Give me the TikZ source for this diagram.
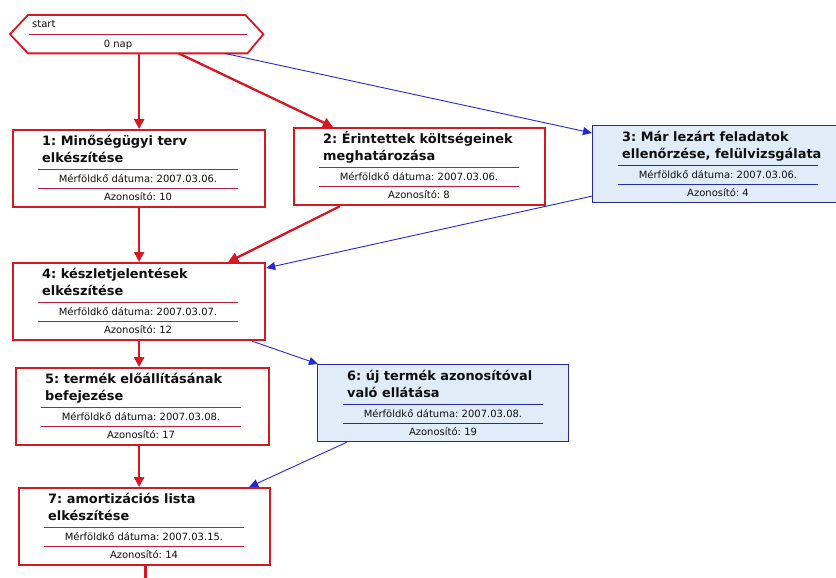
\documentclass[tikz,border=0pt]{standalone}
\usepackage{fontspec}
\setmainfont{DejaVu Sans}
\frenchspacing
\usetikzlibrary{arrows.meta,calc}
\definecolor{rbord}{RGB}{214,24,36}
\definecolor{rdiv}{RGB}{190,30,60}
\definecolor{bbord}{RGB}{40,40,150}
\definecolor{bdiv}{RGB}{40,40,170}
\definecolor{barr}{RGB}{40,40,205}
\definecolor{bfill}{RGB}{224,237,248}
\definecolor{txt}{RGB}{15,15,15}
\tikzset{
 redbox/.style={draw=rbord, line width=2.2pt, fill=white, inner sep=0pt},
 bluebox/.style={draw=bbord, line width=1.1pt, fill=bfill, inner sep=0pt},
 ttl/.style={font=\fontsize{12.9}{15}\selectfont\bfseries, inner sep=0pt, anchor=base west, text=txt},
 det/.style={font=\fontsize{10}{12}\selectfont, inner sep=0pt, anchor=base, text=txt},
 redarr/.style={draw=rbord, line width=2.3pt, -{Triangle[length=10pt,width=10pt]}},
 redline/.style={draw=rbord, line width=2.3pt},
 bluearr/.style={draw=barr, line width=0.9pt, -{Triangle[length=9pt,width=8pt]}},
}
% #1 name, #2 style, #3 position, #4 width, #5 title 1, #6 title 2, #7 date, #8 id, #9 divider colour
\newcommand\tbox[9]{%
 \node[#2, minimum width=#4pt, minimum height=77pt, anchor=north west] (#1) at (#3) {};
 \node[ttl] (#1ta) at ($(#1.north west)+(30,16)$) {#5};
 \node[ttl] (#1tb) at ($(#1.north west)+(30,33)$) {#6};
 \draw[#9, line width=0.8pt] ($(#1.north west)+(26,40)$) -- ($(#1.north west)+(226,40)$);
 \node[det] (#1d) at ($(#1.north west)+(126,53)$) {#7};
 \draw[#9, line width=0.8pt] ($(#1.north west)+(26,59)$) -- ($(#1.north west)+(226,59)$);
 \node[det] (#1i) at ($(#1.north west)+(126,71)$) {#8};
}
\begin{document}
\begin{tikzpicture}[x=1pt,y=-1pt]
\useasboundingbox (0,0) rectangle (836,578);

% start hexagon
\node[inner sep=0pt, minimum width=219pt, minimum height=38pt, anchor=north west] (s) at (28,15) {};
\draw[rbord, line width=1.8pt, fill=white] (s.north west) -- ($(s.north east)+(-2,0)$) -- ($(s.east)+(16,0)$) -- (s.south east) -- (s.south west) -- ($(s.west)+(-18,0)$) -- cycle;
\draw[rdiv, line width=0.8pt] ($(s.west)+(1,0)$) -- ($(s.east)+(0,0)$);
\node[det, anchor=base west] (st) at (32,28) {start};
\node[det] (sn) at (118,48) {0 nap};

\tbox{b1}{redbox}{12,129}{252}{1: Minőségügyi terv}{elkészítése}{Mérföldkő dátuma: 2007.03.06.}{Azonosító: 10}{rdiv}
\tbox{b2}{redbox}{293,127}{251}{2: Érintettek költségeinek}{meghatározása}{Mérföldkő dátuma: 2007.03.06.}{Azonosító: 8}{rdiv}
\tbox{b3}{bluebox}{592,125}{262}{3: Már lezárt feladatok}{ellenőrzése, felülvizsgálata}{Mérföldkő dátuma: 2007.03.06.}{Azonosító: 4}{bdiv}
\tbox{b4}{redbox}{12,262}{252}{4: készletjelentések}{elkészítése}{Mérföldkő dátuma: 2007.03.07.}{Azonosító: 12}{rdiv}
\tbox{b5}{redbox}{15,367}{253}{5: termék előállításának}{befejezése}{Mérföldkő dátuma: 2007.03.08.}{Azonosító: 17}{rdiv}
\tbox{b6}{bluebox}{317,364}{251}{6: új termék azonosítóval}{való ellátása}{Mérföldkő dátuma: 2007.03.08.}{Azonosító: 19}{bdiv}
\tbox{b7}{redbox}{18,487}{251}{7: amortizációs lista}{elkészítése}{Mérföldkő dátuma: 2007.03.15.}{Azonosító: 14}{rdiv}

% connectors
\draw[redarr] (s.south -| b1.north) -- (b1.north);
\draw[redarr] ($(s.south)+(41,0)$) -- ($(b2.north west)+(40,0)$);
\draw[bluearr] ($(s.south)+(87,0)$) -- ($(b3.north west)+(0,8)$);
\draw[redarr] (b1.south) -- (b4.north);
\draw[redarr] ($(b2.south west)+(47,0)$) -- ($(b4.north east)+(-38,0)$);
\draw[bluearr] ($(b3.south west)+(0,-7)$) -- ($(b4.north east)+(0,6)$);
\draw[redarr] (b4.south) -- (b4.south |- b5.north);
\draw[bluearr] ($(b4.south east)+(-14,0)$) -- ($(b6.north west)+(1,0)$);
\draw[redarr] (b5.south -| b4.south) -- (b4.south |- b7.north);
\draw[bluearr] ($(b6.south west)+(30,0)$) -- ($(b7.north east)+(-22,0)$);
\coordinate (tail) at ($(b7.south)+(1,20)$);
\draw[redline] ($(b7.south)+(1,0)$) -- (tail);
\end{tikzpicture}
\end{document}
